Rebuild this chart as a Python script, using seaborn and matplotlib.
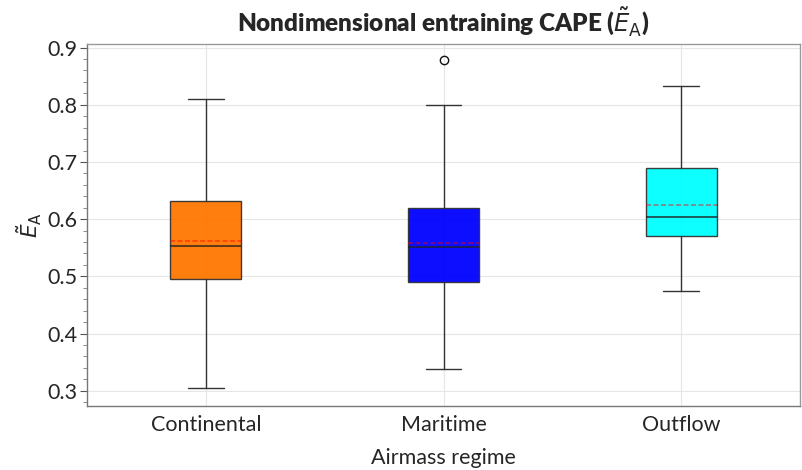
import matplotlib
matplotlib.use("Agg")
import matplotlib.pyplot as plt
from matplotlib.ticker import MultipleLocator
import seaborn as sns

categories = ["Continental", "Maritime", "Outflow"]
whislo = [0.305, 0.338, 0.474]
q1 = [0.495, 0.490, 0.570]
med = [0.553, 0.551, 0.603]
mean = [0.561, 0.558, 0.625]
q3 = [0.631, 0.619, 0.689]
whishi = [0.810, 0.800, 0.832]
fliers = [[], [0.879], []]
colors = ["#ff7700", "#0000ff", "#00ffff"]

sns.set_theme(style="white")
plt.rcParams["font.family"] = ["Lato", "DejaVu Sans"]
plt.rcParams["mathtext.fontset"] = "dejavusans"

fig = plt.figure(figsize=(8.02, 4.70), dpi=100)
ax = fig.add_axes([0.1085, 0.137, 0.889, 0.769])

stats = []
for i, c in enumerate(categories):
    stats.append(dict(label=c, whislo=whislo[i], q1=q1[i], med=med[i], mean=mean[i],
                      q3=q3[i], whishi=whishi[i], fliers=fliers[i]))

bp = ax.bxp(stats, positions=range(len(categories)), widths=0.3, capwidths=0.15,
            patch_artist=True, showmeans=True, meanline=True,
            boxprops=dict(edgecolor="#333333", linewidth=1.0),
            whiskerprops=dict(color="#333333", linewidth=1.0),
            capprops=dict(color="#333333", linewidth=1.0),
            medianprops=dict(color="#222222", linewidth=1.3, alpha=0.8),
            meanprops=dict(color="red", linestyle=(0, (3, 1.5)), linewidth=1.2, alpha=0.5),
            flierprops=dict(marker="o", markerfacecolor="none", markeredgecolor="#111111",
                            markersize=6, markeredgewidth=1.0))
for patch, col in zip(bp["boxes"], colors):
    patch.set_facecolor(col)
    patch.set_alpha(0.95)
    patch.set_edgecolor("#333333")
    patch.set_zorder(2)
for w in bp["whiskers"]:
    w.set_zorder(3)
for m in bp["means"]:
    m.set_zorder(4)
for m in bp["medians"]:
    m.set_zorder(4)

ax.set_xlim(-0.5, 2.5)
ax.set_ylim(0.274, 0.906)
ax.yaxis.set_major_locator(MultipleLocator(0.1))
ax.yaxis.set_minor_locator(MultipleLocator(0.02))
ax.set_xticks(range(len(categories)))
ax.set_xticklabels(categories)
ax.grid(True, which="major", color="#e6e6e6", linewidth=0.8)
ax.set_axisbelow(True)

ax.tick_params(axis="y", which="major", left=True, length=5, width=0.8, color="#555555",
               labelsize=15.5, pad=2)
ax.tick_params(axis="y", which="minor", left=True, length=3, width=0.6, color="#777777")
ax.tick_params(axis="x", which="major", bottom=False, labelsize=15.5, pad=1)

for s in ["top", "right"]:
    ax.spines[s].set_color("#999999")
    ax.spines[s].set_linewidth(1.0)
for s in ["left", "bottom"]:
    ax.spines[s].set_color("#777777")
    ax.spines[s].set_linewidth(1.0)

ax.set_xlabel("Airmass regime", fontsize=15.5, labelpad=9)
ax.set_ylabel(r"$\tilde{E}_\mathrm{A}$", fontsize=15.5, labelpad=2)
ax.set_title(r"Nondimensional entraining CAPE ($\tilde{E}_\mathrm{A}$)", fontsize=17.5,
             fontweight="heavy", pad=9)

fig.savefig("out.png", dpi=100)
